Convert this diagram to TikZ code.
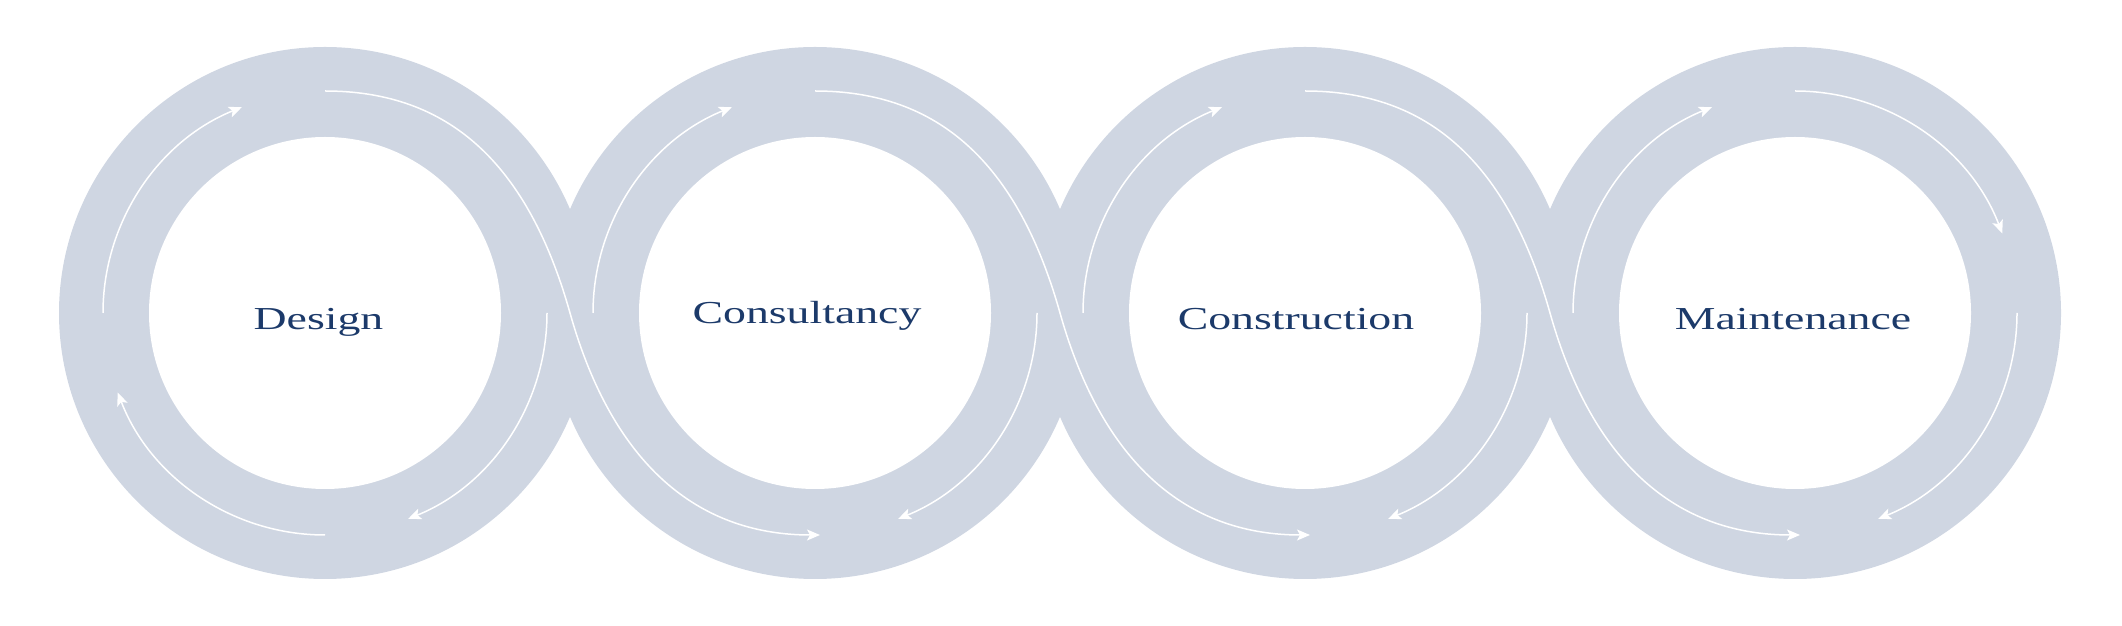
\documentclass[tikz,border=0pt]{standalone}
\usepackage{fontspec}
\setmainfont{Liberation Serif}
\usetikzlibrary{arrows.meta}
\definecolor{band}{RGB}{207,214,226}
\definecolor{navy}{RGB}{28,58,106}
\begin{document}
\begin{tikzpicture}[x=1pt,y=1pt,
  outerring/.style={circle,fill=band,draw=none,minimum size=532pt,inner sep=0pt},
  innerhole/.style={circle,fill=white,draw=none,minimum size=352pt,inner sep=0pt},
  flow/.style={draw=white,line width=1.5pt,-{Stealth[length=13pt,width=11pt,inset=3pt]}},
  lbl/.style={text=navy,font=\fontsize{32}{38}\selectfont,inner sep=0pt,anchor=base}]
\useasboundingbox (0,0) rectangle (2122,626);
% ring centres
\coordinate (o1) at (325,313);
\coordinate (o2) at (815,313);
\coordinate (o3) at (1305,313);
\coordinate (o4) at (1795,313);
% crossing points between rings
\coordinate (m12) at (570,313);
\coordinate (m23) at (1060,313);
\coordinate (m34) at (1550,313);
% bands
\node[outerring] (r1) at (o1) {};
\node[outerring] (r2) at (o2) {};
\node[outerring] (r3) at (o3) {};
\node[outerring] (r4) at (o4) {};
\node[innerhole] (h1) at (o1) {};
\node[innerhole] (h2) at (o2) {};
\node[innerhole] (h3) at (o3) {};
\node[innerhole] (h4) at (o4) {};
% labels
\node[lbl] (t1) at (318.5,296) {\scalebox{1.43}[1]{Design}};
\node[lbl] (t2) at (807,302) {\scalebox{1.43}[1]{Consultancy}};
\node[lbl] (t3) at (1296,296) {\scalebox{1.43}[1]{Construction}};
\node[lbl] (t4) at (1793,296) {\scalebox{1.43}[1]{Maintenance}};
% left and right arcs
\foreach \o in {o1,o2,o3,o4}{
  \draw[flow] ([shift={(180:222)}]\o) arc[start angle=180,end angle=112,radius=222];
  \draw[flow] ([shift={(0:222)}]\o) arc[start angle=0,end angle=-68,radius=222];
}
% bottom-left arc of first ring
\draw[flow] ([shift={(270:222)}]o1) arc[start angle=270,end angle=201,radius=222];
% top-right arc of last ring
\draw[flow] ([shift={(90:222)}]o4) arc[start angle=90,end angle=21,radius=222];
% S-shaped connectors
\draw[flow] ([yshift=222]o1) .. controls +(115,0) and +(-45,160) .. (m12)
  .. controls +(45,-160) and +(-115,0) .. ([shift={(5,-222)}]o2);
\draw[flow] ([yshift=222]o2) .. controls +(115,0) and +(-45,160) .. (m23)
  .. controls +(45,-160) and +(-115,0) .. ([shift={(5,-222)}]o3);
\draw[flow] ([yshift=222]o3) .. controls +(115,0) and +(-45,160) .. (m34)
  .. controls +(45,-160) and +(-115,0) .. ([shift={(5,-222)}]o4);
\end{tikzpicture}
\end{document}
